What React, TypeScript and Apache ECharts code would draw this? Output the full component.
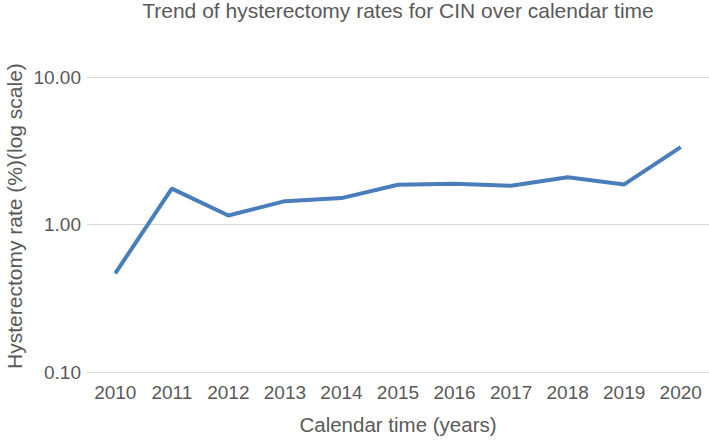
import React, { useEffect, useRef } from "react";
import * as echarts from "echarts";

const years = ["2010", "2011", "2012", "2013", "2014", "2015", "2016", "2017", "2018", "2019", "2020"];
const rates = [0.467, 1.75, 1.15, 1.44, 1.51, 1.86, 1.89, 1.83, 2.09, 1.87, 3.35];

const TEXT = "#595959";
const FONT = "Liberation Sans, Arial, sans-serif";

export default function App() {
  const ref = useRef<HTMLDivElement>(null);
  useEffect(() => {
    if (!ref.current) return;
    const chart = echarts.init(ref.current, null, { renderer: "svg" });
    chart.setOption({
      animation: false,
      title: {
        text: "Trend of hysterectomy rates for CIN over calendar time",
        left: 398,
        textAlign: "center",
        top: 0,
        padding: 0,
        textStyle: { color: TEXT, fontSize: 21, fontWeight: "normal", fontFamily: FONT },
      },
      grid: { left: 87, right: 0, top: 77, bottom: 67 },
      xAxis: {
        type: "category",
        data: years,
        boundaryGap: true,
        axisLine: { show: true, lineStyle: { color: "#d9d9d9", width: 1 } },
        axisTick: { show: false },
        axisLabel: { color: TEXT, fontSize: 19, fontFamily: FONT, margin: 11 },
        name: "Calendar time (years)",
        nameLocation: "middle",
        nameGap: 42,
        nameTextStyle: { color: TEXT, fontSize: 20.5, fontFamily: FONT },
      },
      yAxis: {
        type: "log",
        logBase: 10,
        min: 0.1,
        max: 10,
        axisLine: { show: false },
        axisTick: { show: false },
        splitLine: { lineStyle: { color: "#d9d9d9", width: 1 } },
        axisLabel: {
          color: TEXT,
          fontSize: 19,
          fontFamily: FONT,
          margin: 6,
          padding: [3, 0, 0, 0],
          formatter: (v: number) => v.toFixed(2),
        },
      },
      graphic: [
        {
          type: "text",
          x: 14,
          y: 216,
          rotation: Math.PI / 2,
          style: {
            text: "Hysterectomy rate (%)(log scale)",
            fill: TEXT,
            fontSize: 21,
            fontFamily: FONT,
            textAlign: "center",
            textVerticalAlign: "middle",
          },
        },
      ],
      series: [
        {
          type: "line",
          data: rates,
          showSymbol: false,
          symbol: "none",
          lineStyle: { color: "#4a7ebb", width: 4 },
        },
      ],
    });
    return () => chart.dispose();
  }, []);
  return <div ref={ref} style={{ width: 709, height: 440, position: "absolute", left: 0, top: 0 }} />;
}
